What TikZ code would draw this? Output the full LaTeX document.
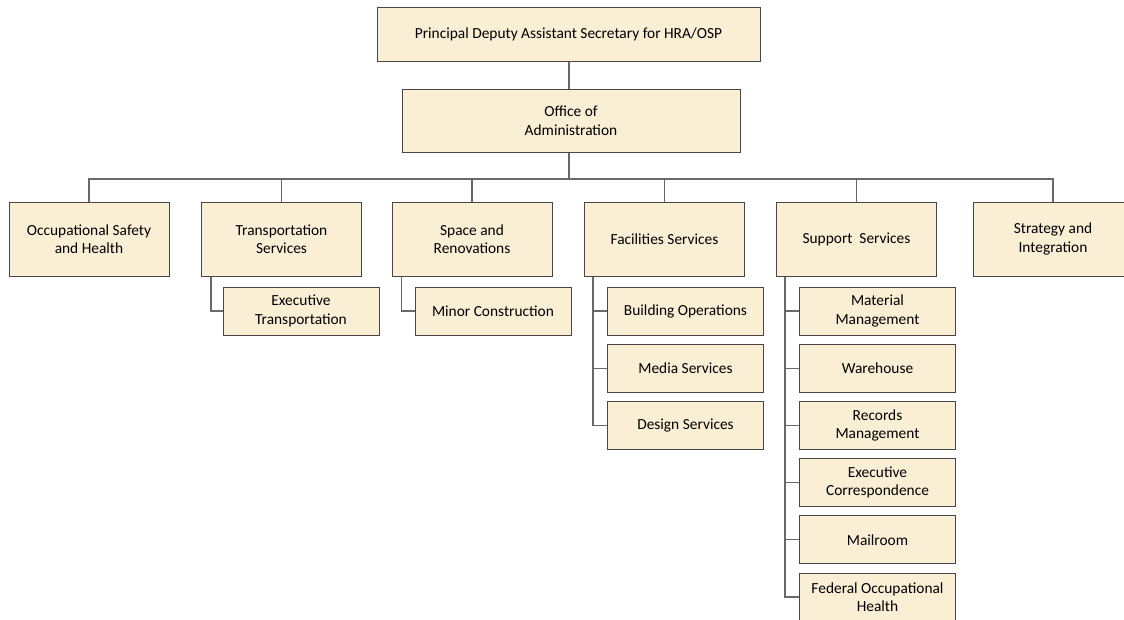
\documentclass[tikz,border=0pt]{standalone}
\usepackage{fontspec}
\setmainfont{Carlito}
\definecolor{boxfill}{RGB}{250,238,212}
\definecolor{boxline}{RGB}{70,70,70}
\definecolor{linkgray}{RGB}{105,105,105}
\tikzset{
  unit/.style={draw=boxline, fill=boxfill, line width=1pt, align=center, inner sep=2pt, font=\fontsize{15.4}{18.5}\selectfont},
  dept/.style={unit, minimum width=160pt, minimum height=74pt},
  sub/.style={unit, minimum width=156pt, minimum height=48pt},
  link/.style={draw=linkgray, line width=1.2pt}
}
\begin{document}
\begin{tikzpicture}[x=1pt, y=-1pt]
			\useasboundingbox (0,0) rectangle (1124,619);
			\clip (0,0) rectangle (1124,619);
			% top levels
			\node[unit, minimum width=383pt, minimum height=54pt] (T) at (568.5,34) {Principal Deputy Assistant Secretary for HRA/OSP};
			\node[unit, minimum width=338pt, minimum height=63pt] (O) at (571,120.5) {Office of\\Administration};
			% divisions
			\node[dept] (D1) at (89,239) {Occupational Safety\\and Health};
			\node[dept] (D2) at (281.5,239) {Transportation\\Services};
			\node[dept] (D3) at (472,239) {Space and\\Renovations};
			\node[dept] (D4) at (664.5,239) {Facilities Services};
			\node[dept] (D5) at (856.5,239) {Support\ \ Services};
			\node[dept] (D6) at (1053,239) {Strategy and\\Integration};
			% units
			\node[sub] (E1) at (301,311) {Executive\\Transportation};
			\node[sub] (M1) at (493,311) {Minor Construction};
			\node[sub] (F1) at (685.5,311) {Building Operations};
			\node[sub] (F2) at (685.5,368.2) {Media Services};
			\node[sub] (F3) at (685.5,425.4) {Design Services};
			\node[sub] (S1) at (877.5,311) {Material\\Management};
			\node[sub] (S2) at (877.5,368.2) {Warehouse};
			\node[sub] (S3) at (877.5,425.4) {Records\\Management};
			\node[sub] (S4) at (877.5,482.6) {Executive\\Correspondence};
			\node[sub] (S5) at (877.5,539.8) {Mailroom};
			\node[sub] (S6) at (877.5,597) {Federal Occupational\\Health};
			% connectors
			\coordinate (bus) at (569,179);
			\draw[link] (T.south -| bus) -- (O.north -| bus);
			\draw[link] (O.south -| bus) -- (bus);
			\draw[link] (bus) -| (D1.north);
			\draw[link] (bus) -| (D2.north);
			\draw[link] (bus) -| (D3.north);
			\draw[link] (bus) -| (D4.north);
			\draw[link] (bus) -| (D5.north);
			\draw[link] (bus) -| (D6.north);
			\draw[link] ([xshift=10pt]D2.south west) |- (E1.west);
			\draw[link] ([xshift=10pt]D3.south west) |- (M1.west);
			\draw[link] ([xshift=9pt]D4.south west) |- (F1.west);
			\draw[link] ([xshift=9pt]D4.south west) |- (F2.west);
			\draw[link] ([xshift=9pt]D4.south west) |- (F3.west);
			\draw[link] ([xshift=9pt]D5.south west) |- (S1.west);
			\draw[link] ([xshift=9pt]D5.south west) |- (S2.west);
			\draw[link] ([xshift=9pt]D5.south west) |- (S3.west);
			\draw[link] ([xshift=9pt]D5.south west) |- (S4.west);
			\draw[link] ([xshift=9pt]D5.south west) |- (S5.west);
			\draw[link] ([xshift=9pt]D5.south west) |- (S6.west);
		\end{tikzpicture}
\end{document}
